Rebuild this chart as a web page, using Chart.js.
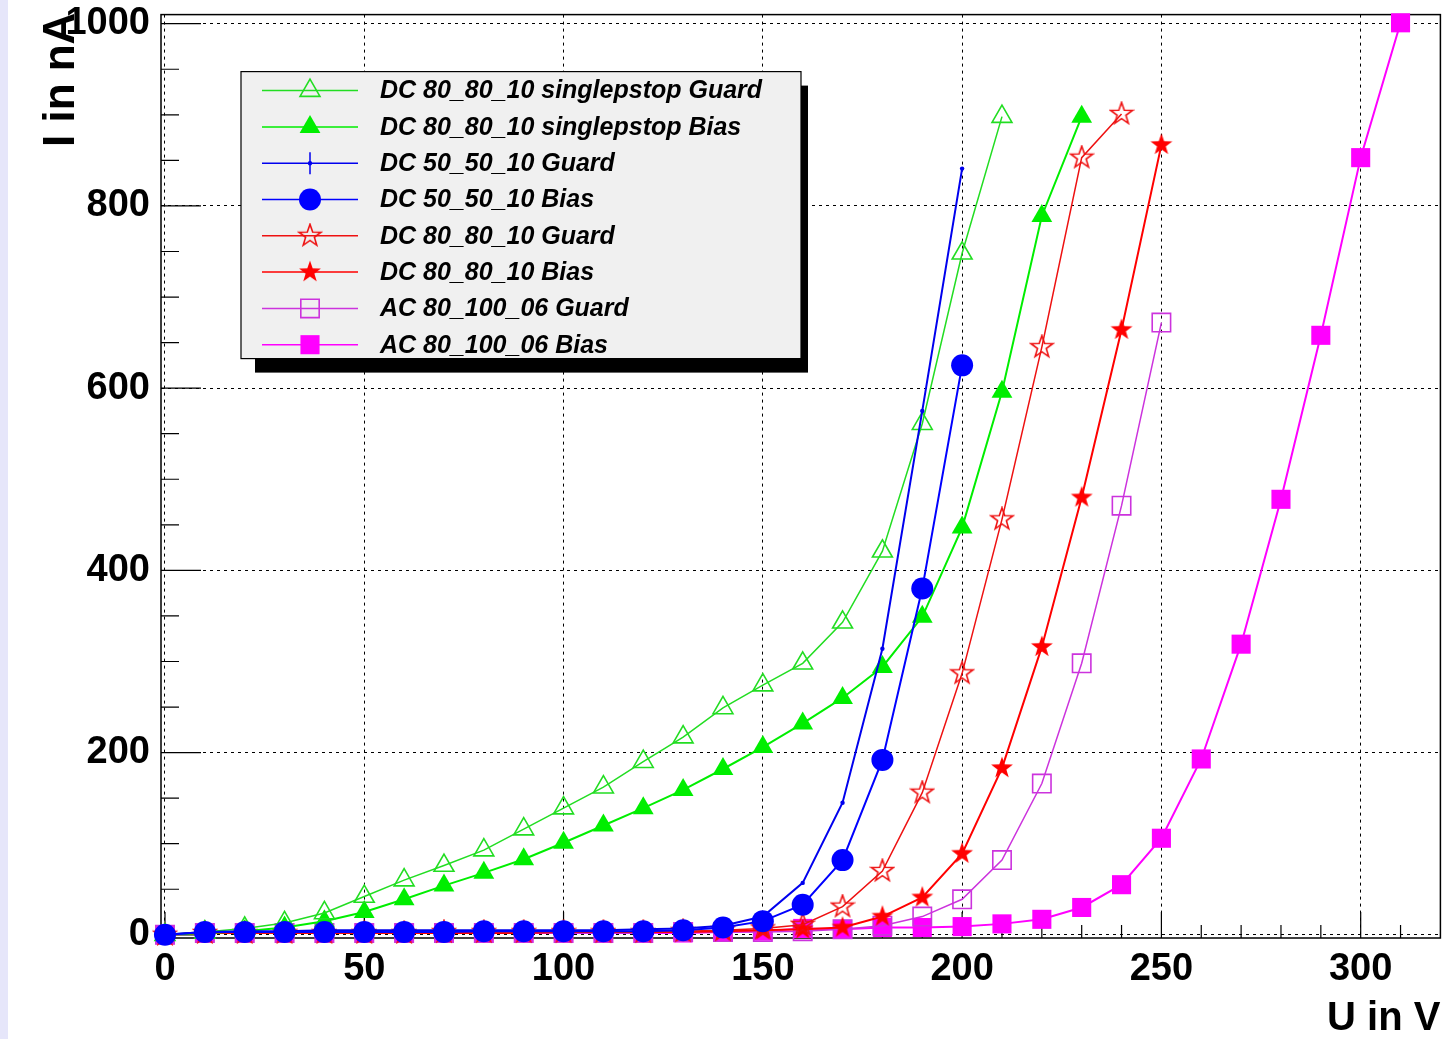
<!DOCTYPE html>
<html lang="en">
<head>
<meta charset="UTF-8">
<title>I-V Kennlinien</title>
<script src="https://cdn.jsdelivr.net/npm/chart.js"></script>
<style>
    *{margin:0;padding:0;box-sizing:border-box;}
    body{background:#e6e6fa;width:1445px;height:1039px;overflow:hidden;position:relative;}
    .wrap{position:absolute;left:8px;top:0;width:1447px;height:1039px;background:#fff;}
</style>
</head>
<body>
<div class="wrap"><canvas id="iv" width="1447" height="1039"></canvas></div>
<script>
// U in V
const voltage=[0,10,20,30,40,50,60,70,80,90,100,110,120,130,140,150,160,170,180,190,200,210,220,230,240,250,260,270,280,290,300,310];
// I in nA, one value per voltage step
const dcSingleGuard=[0,3,7,13,24,42,60,76,93,116,139,162,190,217,249,274,298,343,421,561,748,898];
const dcSingleBias=[0,2,4,8,15,25,39,54,68,83,101,120,139,159,182,206,232,260,294,349,447,596,789,898];
const dc50Guard=[0,3,4,4,5,5,5,5,5,5,5,5,6,7,10,20,57,145,314,575,841];
const dc50Bias=[0,3,3,3,3,3,3,3,4,4,4,4,4,5,8,15,33,82,192,380,625];
const dc80Guard=[0,2,2,2,2,2,2,3,3,3,3,3,3,4,5,7,11,31,70,156,287,456,645,853,901];
const dc80Bias=[0,2,2,2,2,2,2,2,2,2,3,3,3,3,4,5,6,8,20,41,89,183,316,480,664,867];
const acGuard=[0,2,2,2,2,2,2,2,2,2,2,2,2,3,3,3,4,6,10,20,39,82,166,298,471,672];
const acBias=[0,2,2,2,2,2,2,2,2,2,2,2,2,2,3,4,7,6,8,8,9,12,17,30,55,106,193,319,478,658,853,1001];

const xTicks=[0,50,100,150,200,250,300];
const yTicks=[0,200,400,600,800,1000];

const FONT='"Liberation Sans", Arial, sans-serif';

function pts(arr){return arr.map((v,i)=>({x:voltage[i],y:v}));}

function starImage(color,filled){
    const c=document.createElement('canvas');c.width=c.height=26;
    const g=c.getContext('2d');g.beginPath();
    for(let i=0;i<10;i++){
        const r=i%2?4.6:11.5,a=-Math.PI/2+i*Math.PI/5;
        g.lineTo(13+r*Math.cos(a),13+r*Math.sin(a));
    }
    g.closePath();
    if(filled){g.fillStyle=color;g.fill();}else{g.strokeStyle=color;g.lineWidth=1.6;g.stroke();}
    return c;
}

function series(label,data,color,style,radius,filled,lw,order){
    return {label,data:pts(data),borderColor:color,borderWidth:lw,
        pointStyle:style,pointRadius:radius,pointBorderColor:color,pointBorderWidth:filled?0:1.6,
        pointBackgroundColor:filled?color:'rgba(0,0,0,0)',
        showLine:true,tension:0,clip:false,order};
}

const datasets=[
    series('DC 80_80_10 singlepstop Guard',dcSingleGuard,'#22dd22','triangle',11.5,false,1.5,3),
    series('DC 80_80_10 singlepstop Bias',dcSingleBias,'#00ee00','triangle',12,true,2,4),
    series('DC 50_50_10 Guard',dc50Guard,'#0000ee','circle',2.2,true,2,2),
    series('DC 50_50_10 Bias',dc50Bias,'#0000ff','circle',11,true,2,1),
    series('DC 80_80_10 Guard',dc80Guard,'#ee1111',starImage('#ee1111',false),11,false,1.5,5),
    series('DC 80_80_10 Bias',dc80Bias,'#ff0000',starImage('#ff0000',true),11,true,2,6),
    series('AC 80_100_06 Guard',acGuard,'#cc33dd','rect',13,false,1.5,7),
    series('AC 80_100_06 Bias',acBias,'#ff00ff','rect',13.5,true,2,8)
];

// frame, inward ticks, y title and legend box like the original plot
const rootStyle={
    id:'rootStyle',
    beforeDatasetsDraw(chart){
        const {ctx,chartArea:a,scales:{x,y}}=chart;
        ctx.save();
        ctx.strokeStyle='#000';ctx.lineWidth=1.5;
        ctx.strokeRect(a.left,a.top,a.right-a.left,a.bottom-a.top);
        ctx.lineWidth=1.2;ctx.beginPath();
        for(let v=0;v<=320;v+=10){
            const px=x.getPixelForValue(v);if(px>a.right-1)break;
            const len=v%50===0?26:13;
            ctx.moveTo(px,a.bottom);ctx.lineTo(px,a.bottom-len);
        }
        for(let v=0;v<=1000;v+=50){
            const py=y.getPixelForValue(v);
            const len=v%200===0?40:18;
            ctx.moveTo(a.left,py);ctx.lineTo(a.left+len,py);
        }
        ctx.stroke();
        ctx.restore();
    },
    afterDraw(chart){
        const {ctx,chartArea:a}=chart;
        ctx.save();
        // y axis title
        ctx.translate(a.left-99,a.top-2);
        ctx.rotate(-Math.PI/2);
        ctx.fillStyle='#000';ctx.font='bold 44px '+FONT;
        ctx.textAlign='right';ctx.textBaseline='middle';
        ctx.fillText('I in nA',0,0);
        ctx.restore();

        // legend
        const lx=a.left+80,ly=a.top+57,lw=560,lh=287;
        ctx.save();
        ctx.fillStyle='#000';ctx.fillRect(lx+14,ly+14,lw-7,lh);
        ctx.fillStyle='#f0f0f0';ctx.fillRect(lx,ly,lw,lh);
        ctx.strokeStyle='#000';ctx.lineWidth=1.2;ctx.strokeRect(lx,ly,lw,lh);
        const step=36.3;
        chart.data.datasets.forEach((ds,i)=>{
            const cy=ly+19+i*step;
            ctx.strokeStyle=ds.borderColor;ctx.lineWidth=1.5;
            ctx.beginPath();ctx.moveTo(lx+21,cy);ctx.lineTo(lx+117,cy);ctx.stroke();
            if(ds.pointRadius<4){ctx.beginPath();ctx.moveTo(lx+69,cy-11);ctx.lineTo(lx+69,cy+11);ctx.stroke();}
            ctx.fillStyle=ds.pointBackgroundColor;ctx.strokeStyle=ds.pointBorderColor;
            ctx.lineWidth=ds.pointBorderWidth||0.01;
            Chart.helpers.drawPoint(ctx,{pointStyle:ds.pointStyle,radius:ds.pointRadius,rotation:0,borderWidth:ds.pointBorderWidth},lx+69,cy);
            ctx.fillStyle='#000';ctx.font='italic bold 25px '+FONT;
            ctx.textAlign='left';ctx.textBaseline='middle';
            ctx.fillText(ds.label,lx+139,cy+1);
        });
        ctx.restore();
    }
};

new Chart(document.getElementById('iv'),{
    type:'scatter',
    data:{datasets},
    options:{
        responsive:false,animation:false,events:[],
        layout:{padding:{top:14,right:0,left:0,bottom:0}},
        plugins:{legend:{display:false},tooltip:{enabled:false}},
        scales:{
            x:{
                type:'linear',min:-1,max:320,
                afterFit(s){s.height=101;s.paddingLeft=0;s.paddingRight=0;},
                afterBuildTicks(s){s.ticks=xTicks.map(v=>({value:v}));},
                ticks:{includeBounds:false,padding:9,color:'#000',font:{family:FONT,size:38,weight:'bold'},maxRotation:0,callback:v=>String(v)},
                grid:{color:'#000',lineWidth:1,drawTicks:false},
                border:{display:false,dash:[3,4]},
                title:{display:true,text:'U in V',align:'end',color:'#000',padding:{top:0,bottom:0},font:{family:FONT,size:40,weight:'bold',lineHeight:1}}
            },
            y:{
                type:'linear',min:-3.5,max:1010,
                afterFit(s){s.width=153;s.paddingTop=0;s.paddingBottom=0;},
                afterBuildTicks(s){s.ticks=yTicks.map(v=>({value:v}));},
                ticks:{includeBounds:false,padding:11,color:'#000',font:{family:FONT,size:38,weight:'bold'},callback:v=>String(v)},
                grid:{color:'#000',lineWidth:1,drawTicks:false},
                border:{display:false,dash:[3,4]}
            }
        }
    },
    plugins:[rootStyle]
});
</script>
</body>
</html>
